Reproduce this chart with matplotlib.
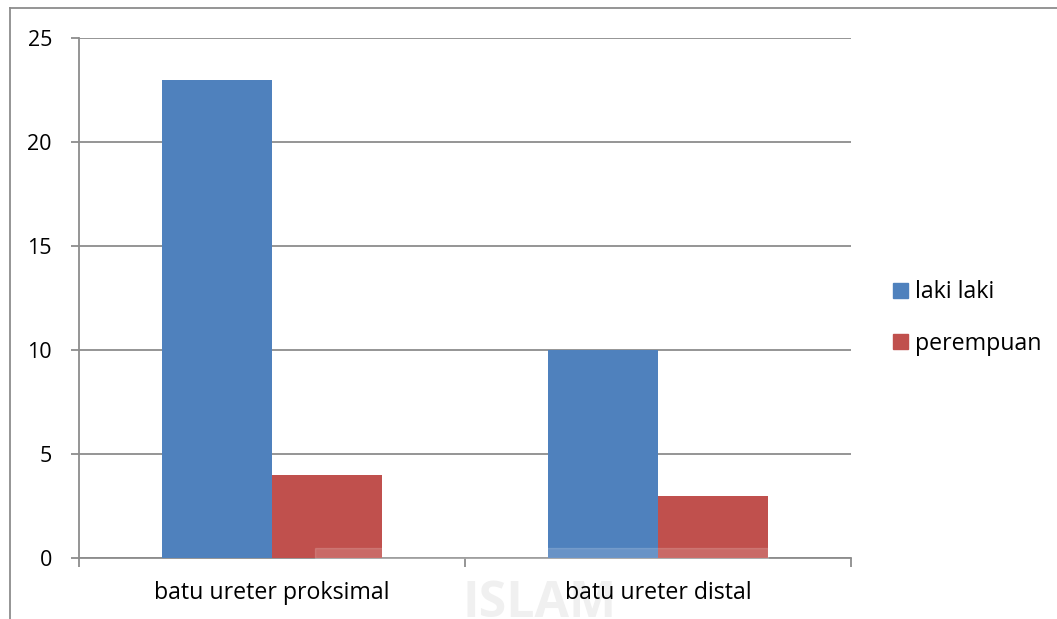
import matplotlib
matplotlib.use("Agg")
import matplotlib.pyplot as plt
from matplotlib.patches import Rectangle
from matplotlib.lines import Line2D

categories = ["batu ureter proksimal", "batu ureter distal"]
series_names = ["laki laki", "perempuan"]
laki_laki = [23, 10]
perempuan = [4, 3]
y_ticks = [0, 5, 10, 15, 20, 25]

colors = ["#4F81BD", "#C0504D"]
grid_col = "#8C8C8C"

plt.rcParams['font.family'] = ['Open Sans', 'DejaVu Sans']
FS = 16.7
PX = 72 / 100  # points per pixel

W, H = 1057, 619
fig = plt.figure(figsize=(W / 100, H / 100), dpi=100)

# axes placement in pixels
x0, x1 = 79, 851
y_top, y_zero = 38, 558
ax = fig.add_axes([x0 / W, 1 - y_zero / H, (x1 - x0) / W, (y_zero - y_top) / H])

n = len(categories)
w = 1 / 3.5
xs = range(n)
ax.bar([i - w / 2 for i in xs], laki_laki, width=w, color=colors[0], label=series_names[0], zorder=3)
ax.bar([i + w / 2 for i in xs], perempuan, width=w, color=colors[1], label=series_names[1], zorder=3)

ax.set_xlim(-0.5, n - 0.5)
ax.set_ylim(0, 25)
ax.set_yticks(y_ticks)
ax.set_yticklabels([str(t) for t in y_ticks], fontsize=15.5)
ax.yaxis.grid(True, color=grid_col, linewidth=1.3, zorder=0)
ax.set_xticks([i for i in xs])
ax.set_xticklabels(categories, fontsize=FS)
ax.tick_params(axis='x', length=0, pad=23 * PX)
ax.tick_params(axis='y', length=8 * PX, width=1.3, color=grid_col, pad=19 * PX)
# category boundary ticks
ax.set_xticks([i - 0.5 for i in range(n + 1)], minor=True)
ax.tick_params(axis='x', which='minor', length=9 * PX, width=1.3, color=grid_col, direction='out')
for s in ["top", "right"]:
    ax.spines[s].set_visible(False)
ax.spines["left"].set_color(grid_col)
ax.spines["left"].set_linewidth(1.3)
ax.spines["bottom"].set_color(grid_col)
ax.spines["bottom"].set_linewidth(1.3)

# legend
handles = [Rectangle((0, 0), 1, 1, color=c) for c in colors]
fig.legend(handles, series_names, loc="center left", bbox_to_anchor=(893 / W, 1 - 318 / H),
           frameon=False, fontsize=FS, handlelength=0.65, handleheight=0.65,
           handletextpad=0.3, labelspacing=1.17, borderpad=0, borderaxespad=0)

# outer chart border (cropped: only top and left visible)
fig.add_artist(Line2D([10 / W, 1], [1 - 8 / H, 1 - 8 / H], color=grid_col, linewidth=1.3))
fig.add_artist(Line2D([10 / W, 10 / W], [0, 1 - 8 / H], color=grid_col, linewidth=1.3))

# faint watermark
fig.add_artist(Rectangle((315 / W, 1 - 558 / H), (768 - 315) / W, 10 / H,
                         transform=fig.transFigure, color="white", alpha=0.15, zorder=5))
fig.text(540 / W, 1 - 604 / H, "ISLAM", fontsize=36, color="#F0F0F0", ha="center",
         va="center", zorder=-1, fontweight="bold")

fig.savefig("out.png", dpi=100)
